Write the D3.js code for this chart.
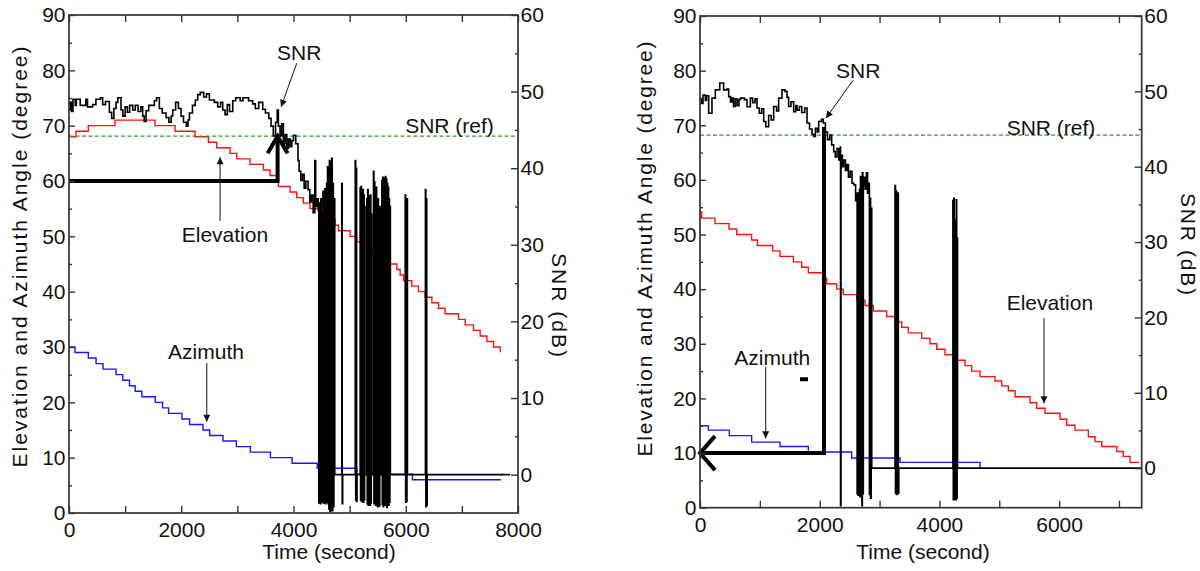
<!DOCTYPE html>
<html><head><meta charset="utf-8">
<script src="https://cdn.jsdelivr.net/npm/d3@7"></script>
<style>
body{margin:0;background:#fff}
text{font-family:"Liberation Sans",Arial,sans-serif;fill:#111}
</style>
</head><body>
<svg id="c" width="1200" height="571"></svg>
<script>
// ---------------- DATA (time in s, angle in degree, SNR in dB) ----------------
const angleTicks = [0,10,20,30,40,50,60,70,80,90];
const snrTicks = [0,10,20,30,40,50,60];
const timeTicksL = [0,2000,4000,6000,8000];
const timeTicksR = [0,2000,4000,6000];

// Left panel
const elevationL = [[0,68],[125,69],[344,70],[820,71],[1533,70],[1890,69],[2246,68],[2484,67],[2632,66],[2870,65],[2989,64],[3226,63],[3464,62],[3583,61],[3702,60],[3731,59],[3939,58],[4057,57],[4176,56],[4295,55],[4474,54],[4563,53],[4742,52],[4801,51],[5009,50],[5128,49],[5336,48],[5395,47],[5574,46],[5722,45],[5841,44],[5900,43],[5960,42],[6108,41],[6227,40],[6346,39],[6465,38],[6583,37],[6702,36],[6940,35],[7059,34],[7207,33],[7326,32],[7445,31],[7564,30],[7683,29.2],[7696,29.2]];
const azimuthL = [[0,30],[107,29],[345,28],[482,27],[607,26],[839,25],[958,24],[1077,23],[1179,22],[1298,21],[1536,20],[1667,19],[1774,18],[2012,17],[2149,16],[2387,15],[2506,14],[2744,13],[2982,12],[3232,11],[3589,10],[3975,9],[4423,8.1],[5128,7],[6119,6],[7696,6]];
const snrL = [[0,47.6],[20,48.6],[45,47.4],[70,49.0],[110,48.2],[130,49.0],[200,48.2],[300,49.0],[330,48.0],[420,48.3],[480,49.0],[560,49.2],[600,48.3],[650,48.7],[719,47.3],[760,46.5],[800,47.8],[838,48.6],[870,49.2],[927,47.6],[960,46.8],[1000,48.0],[1040,47.3],[1080,48.2],[1135,47.6],[1180,48.2],[1230,47.4],[1280,48.0],[1313,46.8],[1340,46.1],[1373,47.5],[1420,48.2],[1521,48.8],[1560,49.2],[1610,47.8],[1660,47.2],[1729,46.6],[1780,46.0],[1820,46.8],[1848,47.6],[1900,48.6],[1950,47.8],[1996,46.8],[2040,46.0],[2090,45.5],[2120,46.3],[2145,47.2],[2200,48.2],[2250,48.9],[2293,49.6],[2340,49.9],[2400,49.3],[2450,49.7],[2501,48.9],[2590,48.6],[2650,48.0],[2700,48.6],[2739,47.6],[2780,47.0],[2820,48.3],[2860,47.4],[2917,48.8],[2970,49.2],[3050,48.8],[3100,49.2],[3200,48.8],[3273,48.4],[3320,47.8],[3380,48.6],[3452,47.7],[3500,47.2],[3560,46.5],[3600,45.5],[3640,44.2],[3680,46.0],[3710,47.6],
[3730,45.5],[3760,44.2],[3790,45.8],[3820,43.2],[3850,44.4],[3880,42.6],[3910,43.8],[3940,42.8],[3970,43.6],[4000,44.3],[4040,43.2],[4080,41.0],[4100,39.6],[4130,38.4],[4160,39.2],[4190,37.4],[4220,38.3],[4260,37.2],[4290,35.6],[4320,36.5],[4350,34.2],[4380,41.0],[4395,35.0],[4420,36.0],[4440,34.5],
[4450,-3.7],[4458,35.5],[4465,-3.5],[4472,33.5],[4480,-3.8],[4488,36.0],[4495,-3.6],[4503,34.0],[4515,-3.4],[4525,37.0],[4533,-3.7],[4541,35.0],[4550,-3.5],[4558,37.3],[4566,-3.8],[4574,36.0],[4582,-3.4],[4590,38.0],[4598,-3.6],[4606,40.2],[4614,-3.8],[4622,39.0],[4630,-4.5],[4640,41.0],[4650,-4.8],[4660,40.5],[4670,-3.9],[4680,41.3],[4690,-4.7],[4700,38.0],[4710,-4.2],[4720,36.0],[4735,0],
[4860,38.0],[4868,-3.8],[4876,0],
[5100,41.0],[5108,-3.3],[5116,40.0],[5124,-3.5],[5132,0],
[5187,37.4],[5195,-3.3],[5203,37.6],[5211,-3.5],[5219,36.8],[5227,-3.4],[5235,37.2],[5243,-3.6],[5251,36.5],[5259,-3.3],[5267,35.0],[5275,0],
[5306,36.0],[5314,-3.8],[5322,37.2],[5330,-4.0],[5338,36.4],[5346,-3.6],[5354,35.0],[5362,-4.0],[5370,36.5],[5378,-3.7],[5386,34.0],[5394,0],
[5425,39.6],[5433,-3.8],[5441,38.2],[5449,-3.5],[5457,30.0],[5465,-4.0],[5473,37.5],[5481,-3.9],[5489,34.0],[5497,-4.2],[5505,36.0],[5513,-3.6],[5521,32.0],[5529,-4.1],[5537,35.0],[5545,0],
[5574,38.4],[5582,-3.9],[5590,38.8],[5598,-4.2],[5606,38.7],[5614,-3.8],[5622,38.5],[5630,-4.0],[5638,38.9],[5646,-3.7],[5654,38.6],[5662,-4.3],[5670,38.0],[5678,-3.8],[5686,37.5],[5694,-4.0],[5702,36.0],[5710,-3.6],[5718,35.0],[5726,0],
[5990,36.5],[5998,-3.6],[6006,35.5],[6014,-3.5],[6022,36.0],[6030,0],
[6350,37.2],[6358,-4.2],[6366,36.0],[6374,-4.0],[6382,0],[7860,0]];
const snrRefL = 44.2;
const bigArrowL = [[0,60],[3717,60],[3717,68.1]];
const labelsL = [{text:"SNR",t:3708,a:81.9},{text:"Elevation",t:2009,a:49.0},{text:"Azimuth",t:1765,a:27.8},{text:"SNR (ref)",t:5989,a:68.7}];
const pointersL = [{from:[4059,81.3],to:[3779,73.4]},{from:[2692,52.8],to:[2692,64.3]},{from:[2455,27.1],to:[2455,16.5]}];

// Right panel
const elevationR = [[0,54.2],[28,53],[251,52],[485,51],[613,50],[863,49],[958,48],[1214,47],[1337,46],[1560,45],[1699,44],[1810,43],[2050,42],[2117,41],[2284,40],[2395,39],[2617,38],[2757,37],[2896,36],[3119,35],[3258,34],[3370,33],[3481,32],[3704,31],[3843,30],[3955,29],[4094,28],[4289,27],[4428,26],[4540,25],[4679,24],[4929,23.2],[5041,22.3],[5152,21.4],[5264,20.3],[5514,19.2],[5625,18.2],[5765,17.3],[6015,16.2],[6126,15.1],[6266,14.2],[6489,13.0],[6600,12.1],[6712,11.2],[6963,10.3],[7074,9.4],[7186,8.3],[7340,8.3]];
const azimuthR = [[0,15],[139,14.2],[490,13.2],[863,12],[1337,11.2],[1810,10.2],[2534,9.1],[3342,8.3],[4679,7.2]];
const snrR = [[0,49.0],[25,48.4],[50,49.5],[89,48.8],[110,49.4],[145,47.1],[200,49.1],[256,50.2],[330,51.1],[395,50.2],[450,50.3],[479,49.3],[510,48.6],[535,49.1],[560,48.0],[590,49.0],[620,48.1],[650,48.9],[674,49.1],[740,48.9],[785,47.96],[841,49.1],[880,48.5],[920,49.0],[953,47.8],[990,47.1],[1030,47.7],[1064,46.0],[1100,45.3],[1147,46.8],[1190,46.2],[1231,48.0],[1280,47.4],[1314,49.1],[1370,50.2],[1420,50.0],[1454,49.2],[1481,48.0],[1520,48.6],[1565,47.3],[1600,48.1],[1621,47.5],[1660,48.0],[1700,47.2],[1750,47.8],[1788,45.8],[1830,45.0],[1872,44.3],[1900,44.0],[1928,45.1],[1960,44.6],[1983,46.0],[2030,46.3],[2060,45.8],[2095,44.6],[2130,43.6],[2170,44.2],[2200,42.9],[2234,42.0],[2260,41.3],[2290,42.4],[2320,40.9],[2345,42.6],[2348,-5.0],[2356,41.5],[2380,40.0],[2400,40.9],[2430,39.5],[2456,40.3],[2480,38.6],[2510,39.4],[2540,37.8],[2570,37.6],[2600,35.5],[2617,36.5],
[2625,-3.4],[2633,35.0],[2641,-3.6],[2649,36.5],[2657,-3.3],[2665,37.0],[2673,-3.8],[2681,38.7],[2689,-3.5],[2697,38.0],[2705,-5.0],[2713,39.2],[2721,-3.4],[2729,37.5],[2745,38.6],[2760,37.0],[2780,39.2],[2800,36.5],[2815,37.8],
[2830,-3.5],[2840,35.8],[2850,-4.0],[2860,34.5],[2870,0],
[3258,37.5],[3266,-3.3],[3274,36.8],[3282,-3.5],[3290,35.0],[3298,-3.4],[3306,36.5],[3314,-3.3],[3322,0],
[4225,35.5],[4232,-4.2],[4240,35.8],[4247,-4.2],[4254,31.0],[4261,-4.2],[4268,33.0],[4275,-4.2],[4282,35.6],[4289,-4.0],[4296,30.5],[4303,0],[7380,0]];
const snrRefR = 44.2;
const bigArrowR = [[2072,69.7],[2072,10],[0,10]];
const dashR = [[1671,1805,11.8]];
const labelsR = [{text:"SNR",t:2272,a:78.6},{text:"Elevation",t:5124,a:36.2},{text:"Azimuth",t:573,a:26.1},{text:"SNR (ref)",t:5124,a:68.2}];
const pointersR = [{from:[2561,78.3],to:[2105,71.3]},{from:[5748,34.7],to:[5748,19.1]},{from:[1098,25.8],to:[1098,12.7]}];

// ---------------- DRAWING ----------------
const svg = d3.select("#c");
const defs = svg.append("defs");
defs.append("marker").attr("id","tri").attr("viewBox","0 0 10 10").attr("refX",10).attr("refY",5)
  .attr("markerWidth",9).attr("markerHeight",7).attr("markerUnits","userSpaceOnUse").attr("orient","auto")
  .append("path").attr("d","M0,0L10,5L0,10z").attr("fill","#111");

function panel(p){
  const x = d3.scaleLinear().domain([0,p.tMax]).range([p.left,p.right]);
  const yA = d3.scaleLinear().domain([0,90]).range([p.bottom,p.top]);
  const yS = d3.scaleLinear().domain(p.snrDomain).range([p.bottom,p.top]);
  defs.append("clipPath").attr("id","clip"+p.id).append("rect")
    .attr("x",p.left).attr("y",p.top).attr("width",p.right-p.left).attr("height",p.bottom-p.top);
  const g = svg.append("g");
  const plot = g.append("g").attr("clip-path","url(#clip"+p.id+")");
  const stepA = d3.line().curve(d3.curveStepAfter).x(d=>x(d[0])).y(d=>yA(d[1]));
  const stepS = d3.line().curve(d3.curveStepAfter).x(d=>x(d[0])).y(d=>yS(d[1]));

  plot.append("path").attr("d",stepA(p.elev)).attr("fill","none").attr("stroke","#ff1010").attr("stroke-width",1.4);
  plot.append("path").attr("d",stepA(p.azim)).attr("fill","none").attr("stroke","#1515ff").attr("stroke-width",1.4);
  plot.append("line").attr("x1",x(0)).attr("x2",x(p.tMax)).attr("y1",yS(p.ref)).attr("y2",yS(p.ref))
    .attr("stroke","#2e9a2e").attr("stroke-width",1.3).attr("stroke-dasharray","4,2.5");
  plot.append("path").attr("d",stepS(p.snr)).attr("fill","none").attr("stroke","#000").attr("stroke-width",1.6);

  // thick arrow
  const arrowLine = d3.line().x(d=>x(d[0])).y(d=>yA(d[1]));
  g.append("path").attr("d",arrowLine(p.big)).attr("fill","none").attr("stroke","#000").attr("stroke-width",4);
  const tip = p.big[p.big.length-1], prev = p.big[p.big.length-2];
  const tx=x(tip[0]), ty=yA(tip[1]), px=x(prev[0]), py=yA(prev[1]);
  const len=Math.hypot(tx-px,ty-py), ux=(tx-px)/len, uy=(ty-py)/len;
  const [back,side]=p.head;
  g.append("path").attr("d",`M${tx-ux*back-uy*side},${ty-uy*back+ux*side}L${tx},${ty}L${tx-ux*back+uy*side},${ty-uy*back-ux*side}`)
    .attr("fill","none").attr("stroke","#000").attr("stroke-width",4);

  if(p.dash){
    g.selectAll(".dsh").data(p.dash).enter().append("line")
      .attr("x1",d=>x(d[0])).attr("x2",d=>x(d[1])).attr("y1",d=>yS(d[2])).attr("y2",d=>yS(d[2]))
      .attr("stroke","#000").attr("stroke-width",4);
  }

  // annotations
  g.selectAll(".lab").data(p.labels).enter().append("text")
    .attr("x",d=>x(d.t)).attr("y",d=>yA(d.a)).attr("font-size",21).text(d=>d.text);
  g.selectAll(".ptr").data(p.pointers).enter().append("line")
    .attr("x1",d=>x(d.from[0])).attr("y1",d=>yA(d.from[1])).attr("x2",d=>x(d.to[0])).attr("y2",d=>yA(d.to[1]))
    .attr("stroke","#111").attr("stroke-width",1).attr("marker-end","url(#tri)");

  // frame
  g.append("rect").attr("x",p.left).attr("y",p.top).attr("width",p.right-p.left).attr("height",p.bottom-p.top)
    .attr("fill","none").attr("stroke","#333").attr("stroke-width",1.7);

  const timeAll = d3.range(0,p.tMax+1,1000);
  const ax = g.append("g").attr("transform",`translate(0,${p.bottom})`)
    .call(d3.axisBottom(x).tickValues(timeAll).tickSize(-7).tickPadding(9)
      .tickFormat(d=>p.timeLabels.includes(d)?d:""));
  const at = g.append("g").attr("transform",`translate(0,${p.top})`)
    .call(d3.axisTop(x).tickValues(timeAll).tickSize(-7).tickFormat(""));
  const al = g.append("g").attr("transform",`translate(${p.left},0)`)
    .call(d3.axisLeft(yA).tickValues(d3.range(0,91,5)).tickSize(-6).tickPadding(3.5)
      .tickFormat(d=>angleTicks.includes(d)?d:""));
  const ar = g.append("g").attr("transform",`translate(${p.right},0)`)
    .call(d3.axisRight(yS).tickValues(d3.range(0,61,5)).tickSize(-7).tickPadding(2.5)
      .tickFormat(d=>snrTicks.includes(d)?d:""));
  [ax,at,al,ar].forEach(a=>{
    a.select(".domain").remove();
    a.selectAll(".tick line").attr("stroke","#333").attr("stroke-width",1.4);
    a.selectAll("text").attr("font-size",21).attr("font-family","Liberation Sans, Arial, sans-serif").attr("fill","#111");
  });
  al.selectAll(".tick line").filter(d=>d%10!==0).attr("x2",3);
  ar.selectAll(".tick line").filter(d=>d%10!==0).attr("x2",-3);
  ax.selectAll("text").attr("dy","0.71em");

  // axis titles
  g.append("text").attr("x",p.timeTitle[0]).attr("y",p.timeTitle[1]).attr("text-anchor","middle")
    .attr("font-size",21).text("Time (second)");
  g.append("text").attr("transform",`translate(${p.angTitle[0]},${p.angTitle[1]}) rotate(-90)`)
    .attr("text-anchor","middle").attr("font-size",21).attr("textLength",p.angTitle[2]).attr("lengthAdjust","spacing")
    .text("Elevation and Azimuth Angle (degree)");
  g.append("text").attr("transform",`translate(${p.snrTitle[0]},${p.snrTitle[1]}) rotate(90)`)
    .attr("text-anchor","middle").attr("font-size",21).attr("textLength",p.snrTitle[2]).attr("lengthAdjust","spacing")
    .text("SNR (dB)");
}

panel({id:"L",left:69,right:518,top:15,bottom:513,tMax:8000,snrDomain:[-5.01,60],
  elev:elevationL,azim:azimuthL,snr:snrL,ref:snrRefL,big:bigArrowL,head:[17,10],
  labels:labelsL,pointers:pointersL,timeLabels:timeTicksL,
  timeTitle:[329,559],angTitle:[26.5,257,421],snrTitle:[552,305,104]});
panel({id:"R",left:700,right:1141.7,top:16,bottom:507.7,tMax:7380,snrDomain:[-5.25,60],
  elev:elevationR,azim:azimuthR,snr:snrR,ref:snrRefR,big:bigArrowR,head:[15,17],dash:dashR,
  labels:labelsR,pointers:pointersR,timeLabels:timeTicksR,
  timeTitle:[923,559],angTitle:[651.5,249,415],snrTitle:[1180.5,244,102]});
</script>
</body></html>
